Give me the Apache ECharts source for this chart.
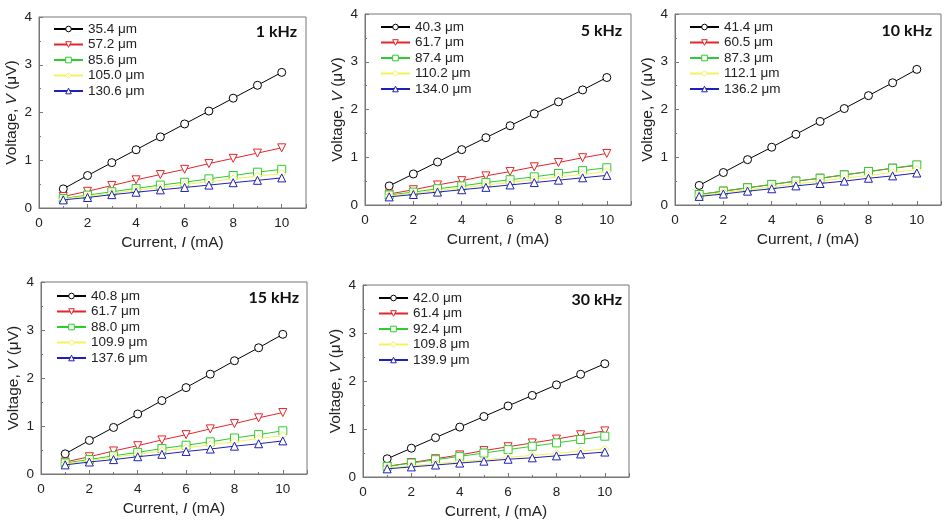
<!DOCTYPE html>
<html><head><meta charset="utf-8">
<script src="https://cdn.jsdelivr.net/npm/echarts@6/dist/echarts.min.js"></script>
<style>html,body{margin:0;padding:0;background:#fff}#c{width:946px;height:528px}</style>
</head><body><div id="c"></div>
<script>
const currents = [1,2,3,4,5,6,7,8,9,10];
const xTicks = [0,2,4,6,8,10];
const yTicks = [0,1,2,3,4];
const freqs = ['1 kHz','5 kHz','10 kHz','15 kHz','30 kHz'];

const labels1k = ['35.4 μm','57.2 μm','85.6 μm','105.0 μm','130.6 μm'];
const v1k_a = [0.40,0.68,0.95,1.22,1.49,1.76,2.03,2.30,2.57,2.84];
const v1k_b = [0.24,0.35,0.47,0.59,0.70,0.81,0.93,1.04,1.15,1.26];
const v1k_c = [0.20,0.27,0.34,0.41,0.48,0.54,0.61,0.68,0.75,0.81];
const v1k_d = [0.19,0.25,0.31,0.37,0.43,0.49,0.55,0.61,0.67,0.72];
const v1k_e = [0.17,0.22,0.28,0.33,0.38,0.43,0.48,0.53,0.58,0.63];

const labels5k = ['40.3 μm','61.7 μm','87.4 μm','110.2 μm','134.0 μm'];
const v5k_a = [0.40,0.65,0.90,1.16,1.41,1.66,1.91,2.16,2.41,2.67];
const v5k_b = [0.23,0.32,0.42,0.51,0.61,0.70,0.80,0.89,0.99,1.08];
const v5k_c = [0.21,0.27,0.34,0.40,0.47,0.53,0.59,0.66,0.72,0.78];
const v5k_d = [0.19,0.25,0.30,0.36,0.42,0.47,0.53,0.59,0.64,0.70];
const v5k_e = [0.17,0.22,0.27,0.32,0.37,0.42,0.47,0.52,0.57,0.62];

const labels10k = ['41.4 μm','60.5 μm','87.3 μm','112.1 μm','136.2 μm'];
const v10k_a = [0.41,0.68,0.95,1.21,1.48,1.75,2.02,2.29,2.56,2.84];
const v10k_b = [0.22,0.29,0.36,0.43,0.50,0.56,0.63,0.70,0.77,0.83];
const v10k_c = [0.22,0.29,0.36,0.43,0.50,0.56,0.63,0.70,0.77,0.84];
const v10k_d = [0.20,0.26,0.32,0.38,0.44,0.50,0.56,0.62,0.68,0.74];
const v10k_e = [0.18,0.23,0.29,0.34,0.40,0.45,0.50,0.56,0.61,0.67];

const labels15k = ['40.8 μm','61.7 μm','88.0 μm','109.9 μm','137.6 μm'];
const v15k_a = [0.42,0.70,0.97,1.25,1.53,1.80,2.08,2.36,2.63,2.91];
const v15k_b = [0.25,0.36,0.48,0.59,0.71,0.82,0.94,1.05,1.17,1.28];
const v15k_c = [0.23,0.30,0.38,0.45,0.53,0.60,0.67,0.75,0.82,0.90];
const v15k_d = [0.21,0.28,0.35,0.41,0.48,0.54,0.61,0.67,0.74,0.80];
const v15k_e = [0.19,0.25,0.30,0.36,0.41,0.47,0.52,0.58,0.63,0.69];

const labels30k = ['42.0 μm','61.4 μm','92.4 μm','109.8 μm','139.9 μm'];
const v30k_a = [0.38,0.60,0.82,1.04,1.26,1.48,1.70,1.92,2.14,2.36];
const v30k_b = [0.22,0.30,0.38,0.46,0.55,0.63,0.71,0.79,0.88,0.96];
const v30k_c = [0.22,0.29,0.36,0.43,0.50,0.57,0.64,0.71,0.78,0.85];
const v30k_d = [0.19,0.23,0.28,0.32,0.36,0.41,0.45,0.49,0.54,0.58];
const v30k_e = [0.17,0.21,0.25,0.29,0.33,0.37,0.40,0.44,0.48,0.52];

const panelLabels = [labels1k, labels5k, labels10k, labels15k, labels30k];
const panelData = [
  [v1k_a,v1k_b,v1k_c,v1k_d,v1k_e],
  [v5k_a,v5k_b,v5k_c,v5k_d,v5k_e],
  [v10k_a,v10k_b,v10k_c,v10k_d,v10k_e],
  [v15k_a,v15k_b,v15k_c,v15k_d,v15k_e],
  [v30k_a,v30k_b,v30k_c,v30k_d,v30k_e]
];

// layout (style, not data)
const grids = [
  {left:39, top:17, width:267, height:191},
  {left:365, top:14, width:266, height:191},
  {left:675, top:14, width:266, height:191},
  {left:41, top:282, width:266, height:192},
  {left:363, top:285, width:266, height:192}
];
const legendPos = [
  {left:53, top:22},{left:380, top:20},{left:689, top:20},{left:56, top:289},{left:378, top:291}
];
const freqPos = [
  {x:297, y:32},{x:622, y:31},{x:932, y:31},{x:299, y:298},{x:622, y:300}
];
const colors = ['#000000','#e3262b','#2ecc2e','#f2f25a','#2020b8'];
const symbols = ['circle','triangle','rect','diamond','triangle'];
const rotates = [0,180,0,0,0];
const FONT = 'Liberation Sans, Arial, sans-serif';

const option = {
  animation:false,
  backgroundColor:'#fff',
  grid: grids.map(g => Object.assign({show:true, borderColor:'#777', borderWidth:1, containLabel:false}, g)),
  xAxis: grids.map((g,i) => ({
    gridIndex:i, type:'value', min:0, max:11, interval:2,
    name:'Current, {i|I} (mA)', nameLocation:'middle', nameGap:27,
    nameTextStyle:{fontSize:15.5, color:'#222', fontFamily:FONT, rich:{i:{fontStyle:'italic', fontSize:15.5, color:'#222', fontFamily:FONT}}},
    axisLine:{show:true, lineStyle:{color:'#777'}},
    axisTick:{show:true, inside:true, length:4, lineStyle:{color:'#777'}},
    minorTick:{show:true, splitNumber:2, length:2, lineStyle:{color:'#777'}},
    splitLine:{show:false},
    axisLabel:{fontSize:13.5, color:'#222', fontFamily:FONT, margin:8, showMaxLabel:false,
      formatter: v => xTicks.includes(v) ? String(v) : ''}
  })),
  yAxis: grids.map((g,i) => ({
    gridIndex:i, type:'value', min:0, max:4, interval:1,
    name:'Voltage, {i|V} (μV)', nameLocation:'middle', nameGap:19,
    nameTextStyle:{fontSize:15.5, color:'#222', fontFamily:FONT, rich:{i:{fontStyle:'italic', fontSize:15.5, color:'#222', fontFamily:FONT}}},
    axisLine:{show:true, lineStyle:{color:'#777'}},
    axisTick:{show:true, inside:true, length:4, lineStyle:{color:'#777'}},
    minorTick:{show:true, splitNumber:2, length:2, lineStyle:{color:'#777'}},
    splitLine:{show:false},
    axisLabel:{fontSize:13.5, color:'#222', fontFamily:FONT, margin:7,
      formatter: v => yTicks.includes(v) ? String(v) : ''}
  })),
  legend: legendPos.map((p,i) => ({
    left:p.left, top:p.top, orient:'vertical', itemWidth:29, itemHeight:7, itemGap:1.5,
    padding:0, data: panelLabels[i], selectedMode:false,
    itemStyle:{color:'#ffffff', borderWidth:1},
    textStyle:{fontSize:13.5, color:'#222', fontFamily:FONT, padding:[0,0,0,0]}
  })),
  series: [],
  graphic: freqPos.map((p,i) => ({
    type:'text', x:p.x, y:p.y,
    style:{text:freqs[i], font:'bold 16px Lato, "Open Sans", sans-serif', fill:'#111', align:'right', verticalAlign:'middle'}
  }))
};

panelData.forEach((set,i) => {
  set.forEach((vals,j) => {
    option.series.push({
      type:'line', name: panelLabels[i][j], xAxisIndex:i, yAxisIndex:i,
      data: currents.map((c,k) => [c, vals[k]]),
      symbol: symbols[j], symbolRotate: rotates[j], symbolSize: 8,
      lineStyle:{color:colors[j], width:1},
      itemStyle:{color:'#ffffff', borderColor:colors[j], borderWidth:1},
      z: 2 + j
    });
  });
});

const chart = echarts.init(document.getElementById('c'), null, {renderer:'canvas'});
chart.setOption(option);
</script>
</body></html>
